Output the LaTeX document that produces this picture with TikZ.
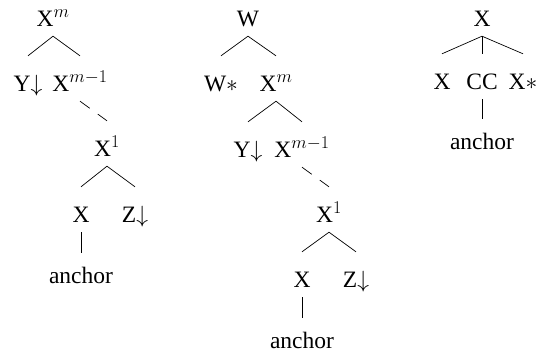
\RequirePackage{fix-cm}
\documentclass[tikz,border=0pt]{standalone}
\usepackage{fontspec}
\setmainfont{Liberation Serif}
\DeclareMathSizes{23.5}{23.5}{18}{14}
\usepackage{tikz}

\begin{document}
\begin{tikzpicture}[
    x=1pt, y=-1pt,
    lbl/.style={
        inner sep=0pt,
        anchor=base,
        text height=35pt,
        text depth=10pt,
        font=\fontsize{23.5pt}{28pt}\selectfont
    },
    leaf/.style={
        lbl,
        text height=30pt
    },
    branch/.style={
        line width=0.7pt
    },
    skip/.style={
        line width=0.7pt,
        dash pattern=on 12pt off 10pt
    }
]
\useasboundingbox (0,0) rectangle (543,356);

% Nodes: first tree
\node (aroot) [lbl] at (53,26)  {X$^{m}$};
\node (ay)    [lbl] at (28,91)  {Y$\downarrow$};
\node (axm)   [lbl] at (80,91)  {X$^{m-1}$};
\node (ax1)   [lbl] at (107,156) {X$^{1}$};
\node (ax)    [lbl] at (81,222) {X};
\node (az)    [lbl] at (135,222) {Z$\downarrow$};
\node (aanc)  [leaf] at (81,283) {anchor};

% Nodes: second tree
\node (broot) [lbl] at (248,26)  {W};
\node (bw)    [lbl] at (221,91)  {W$*$};
\node (bxm)   [lbl] at (276,91)  {X$^{m}$};
\node (by)    [lbl] at (248,157) {Y$\downarrow$};
\node (bxm1)  [lbl] at (302,157) {X$^{m-1}$};
\node (bx1)   [lbl] at (329,222) {X$^{1}$};
\node (bx)    [lbl] at (302,287) {X};
\node (bz)    [lbl] at (356,287) {Z$\downarrow$};
\node (banc)  [leaf] at (302,348) {anchor};

% Nodes: third tree
\node (croot) [lbl] at (482,26) {X};
\node (cx)    [lbl] at (442,89) {X};
\node (ccc)   [lbl] at (482,89) {CC};
\node (cxs)   [lbl] at (523,89) {X$*$};
\node (canc)  [leaf] at (482,149) {anchor};

% Edges
\draw[branch] (aroot.south) -- (ay.north);
\draw[branch] (aroot.south) -- (axm.north);
\draw[skip]   (axm.south) -- (ax1.north);
\draw[branch] (ax1.south) -- (ax.north);
\draw[branch] (ax1.south) -- (az.north);
\draw[branch] (ax.south) -- (aanc.north);

\draw[branch] (broot.south) -- (bw.north);
\draw[branch] (broot.south) -- (bxm.north);
\draw[branch] (bxm.south) -- (by.north);
\draw[branch] (bxm.south) -- (bxm1.north);
\draw[skip]   (bxm1.south) -- (bx1.north);
\draw[branch] (bx1.south) -- (bx.north);
\draw[branch] (bx1.south) -- (bz.north);
\draw[branch] (bx.south) -- (banc.north);

\draw[branch] (croot.south) -- (cx.north);
\draw[branch] (croot.south) -- (ccc.north);
\draw[branch] (croot.south) -- (cxs.north);
\draw[branch] (ccc.south) -- (canc.north);

\end{tikzpicture}
\end{document}
